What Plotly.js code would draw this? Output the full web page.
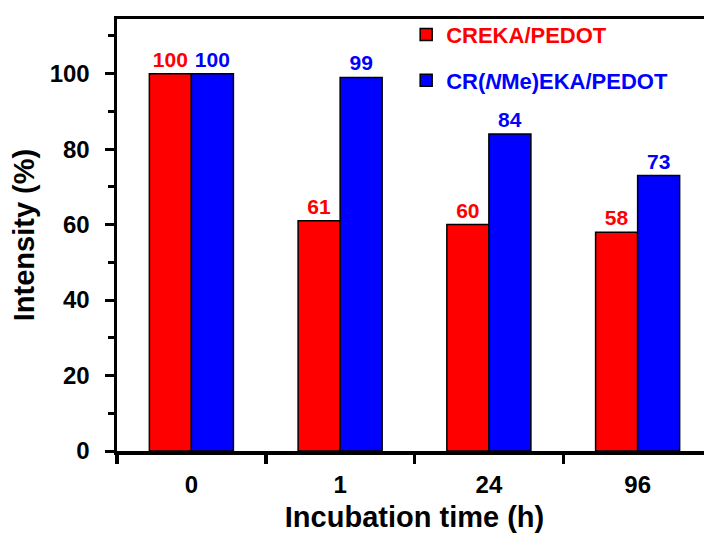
<!DOCTYPE html>
<html>
<head>
<meta charset="utf-8">
<script src="https://cdn.plot.ly/plotly-3.0.1.min.js"></script>
<style>
  html, body { margin: 0; padding: 0; overflow: hidden; background: #fff; }
  #chart { width: 712px; height: 533px; }
</style>
</head>
<body>
<div id="chart"></div>
<script>
// Incubation times (h) on the category axis
const times = ["0", "1", "24", "96"];

// Relative intensity (%) for each coating
const crekaValues = [100, 61, 60, 58];
const nmeValues = [100, 99, 84, 73];

const seriesNames = [
  "<span style='color:#ff0000'>CREKA/PEDOT</span>",
  "<span style='color:#0000ff'>CR(<i>N</i>Me)EKA/PEDOT</span>"
];

const FONT = "Liberation Sans, Arial, Helvetica, sans-serif";

function barTrace(values, name, color, group) {
  return {
    type: "bar",
    x: times,
    y: values,
    name: name,
    legendgroup: group,
    marker: { color: color, line: { color: "#000", width: 1.5 } },
    text: values.map(String),
    textposition: "outside",
    constraintext: "none",
    cliponaxis: false,
    textfont: { family: FONT, size: 21, color: color, weight: "bold" },
    hoverinfo: "skip"
  };
}

const data = [
  barTrace(crekaValues, seriesNames[0], "#ff0000", "a"),
  barTrace(nmeValues, seriesNames[1], "#0000ff", "b")
];

const layout = {
  width: 712,
  height: 533,
  margin: { l: 117, r: 0, t: 19, b: 82 },
  paper_bgcolor: "#fff",
  plot_bgcolor: "#fff",
  barmode: "group",
  bargap: 0.435,
  bargroupgap: 0,
  font: { family: FONT, color: "#000" },
  showlegend: true,
  legend: {
    x: 0.486, y: 1.012, xanchor: "left", yanchor: "top",
    bgcolor: "rgba(0,0,0,0)",
    font: { family: FONT, size: 22, weight: "bold" },
    traceorder: "grouped",
    tracegroupgap: 14
  },
  xaxis: {
    type: "category",
    range: [-0.5, 3.5],
    showline: true, linecolor: "#000", linewidth: 3.5,
    mirror: true,
    ticks: "outside", tickson: "boundaries", ticklen: 9, tickwidth: 3.5, tickcolor: "#000",
    tickfont: { family: FONT, size: 24, weight: "bold" },
    ticklabelstandoff: 10,
    showgrid: false, zeroline: false,
    title: { text: "Incubation time (h)", font: { family: FONT, size: 29, weight: "bold" }, standoff: 12 }
  },
  yaxis: {
    range: [0, 114.5],
    dtick: 20,
    showline: true, linecolor: "#000", linewidth: 3.5,
    mirror: false,
    ticks: "outside", ticklen: 9, tickwidth: 3, tickcolor: "#000",
    minor: { dtick: 10, ticks: "outside", ticklen: 6, tickwidth: 3, tickcolor: "#000", showgrid: false },
    tickfont: { family: FONT, size: 24, weight: "bold" },
    ticklabelstandoff: 10,
    showgrid: false, zeroline: false,
    title: { text: "Intensity (%)", font: { family: FONT, size: 29, weight: "bold" }, standoff: 7 }
  }
};

Plotly.newPlot("chart", data, layout, { displayModeBar: false, staticPlot: true });
</script>
</body>
</html>
